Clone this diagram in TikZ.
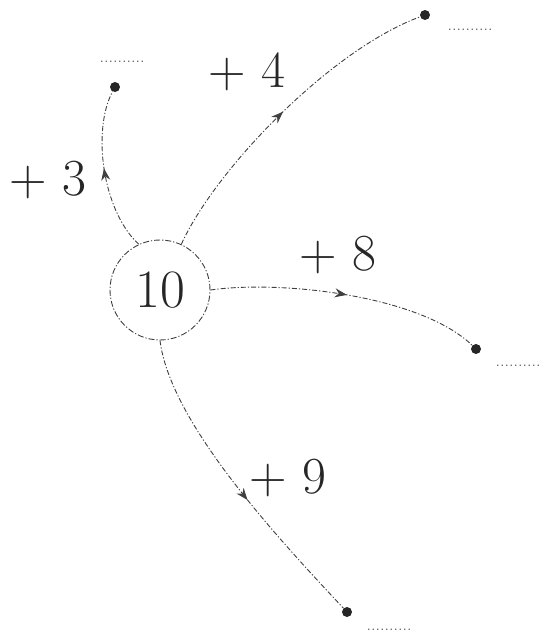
\documentclass[tikz,border=0pt]{standalone}
\usetikzlibrary{decorations.markings,arrows.meta}
\begin{document}
\begin{tikzpicture}[x=1pt,y=-1pt,
  link/.style={draw=black!75, line width=0.9pt, dash pattern=on 5pt off 2pt on 1.2pt off 2pt,
    postaction={decorate}, decoration={markings, mark=at position #1 with {\arrow{Stealth[length=12pt,width=9pt]}}}},
  link/.default=0.5,
  enddot/.style={circle, fill=black!85, inner sep=0pt, minimum size=10pt},
  big/.style={font=\fontsize{52}{60}\selectfont, text=black!85},
  blank/.style={font=\fontsize{18}{18}\selectfont, text=black!70, inner sep=0pt}]
\useasboundingbox (0,0) rectangle (547,636);
\node[draw=black!75, line width=0.9pt, dash pattern=on 6pt off 2pt on 1.2pt off 2pt, circle, minimum size=100pt, inner sep=0pt,
  font=\fontsize{54}{60}\selectfont, text=black!85] (c) at (160,290) {10};
\node[enddot] (d3) at (115,87) {};
\node[enddot] (d4) at (425,15) {};
\node[enddot] (d8) at (476,349) {};
\node[enddot] (d9) at (347,612) {};
\node[blank] (b3) at (122,62) {..........};
\node[blank] (b4) at (470,30) {..........};
\node[blank] (b8) at (518,366) {..........};
\node[blank] (b9) at (389,630) {..........};
\draw[link=0.52] (c.115) .. controls (102,210) and (92,130) .. (d3);
\draw[link=0.5] (c.65) .. controls (215,170) and (330,50) .. (d4);
\draw[link=0.5] (c.0) .. controls (280,280) and (420,295) .. (d8);
\draw[link=0.56] (c.270) .. controls (170,420) and (270,530) .. (d9);
\node[big] (l3) at (48,180) {+ 3};
\node[big] (l4) at (247,72) {+ 4};
\node[big] (l8) at (338,255) {+ 8};
\node[big] (l9) at (288,478) {+ 9};
\end{tikzpicture}
\end{document}
